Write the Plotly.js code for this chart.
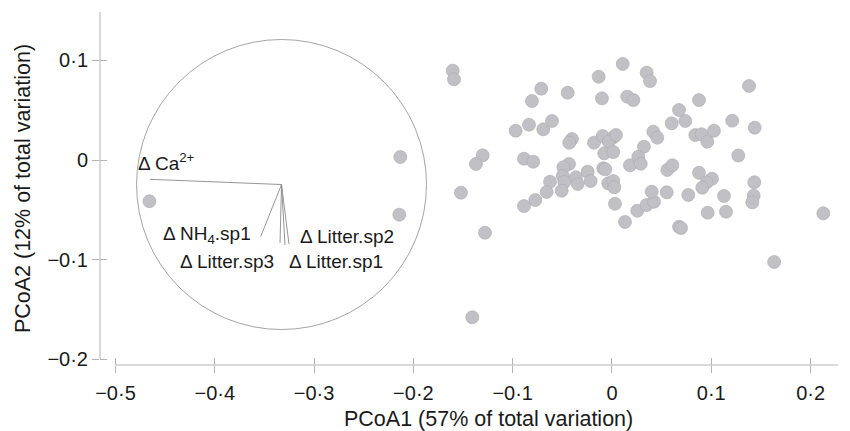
<!DOCTYPE html>
<html>
<head>
<meta charset="utf-8">
<script src="https://cdn.plot.ly/plotly-3.0.1.min.js"></script>
<style>html,body{margin:0;padding:0;background:#fff;}#chart{width:850px;height:431px;}</style>
</head>
<body>
<div id="chart"></div>
<script>
// Sample scores (PCoA1, PCoA2)
const pcoa1 = [-0.1604,-0.1591,-0.2132,-0.2142,-0.1302,-0.1370,-0.1521,-0.1279,-0.1407,-0.4658,
  0.0108,-0.0134,0.0349,0.0383,-0.0712,-0.0806,-0.0446,-0.0101,0.0154,0.0215,
  0.0675,0.0601,-0.0970,-0.0836,-0.0692,-0.0604,-0.0403,-0.0430,-0.0181,-0.0094,
  0.0013,-0.0033,0.0040,-0.0078,0.0013,0.0416,0.0456,0.0322,-0.0886,-0.0793,
  -0.0433,-0.0490,-0.0496,-0.0480,-0.0363,-0.0345,-0.0245,-0.0215,-0.0088,-0.0067,
  -0.0037,0.0013,0.0023,-0.0624,-0.0658,-0.0507,-0.0772,-0.0886,0.0030,0.0131,
  0.0255,0.0349,0.0423,0.0400,0.0551,0.0181,0.0265,0.0289,0.0557,0.0607,
  0.0675,0.1380,0.0876,0.0738,0.0839,0.0903,0.0960,0.1027,0.1211,0.1437,
  0.1272,0.0876,0.1007,0.0954,0.0909,0.0768,0.1128,0.1433,0.1427,0.1413,
  0.0964,0.1148,0.0695,0.1633,0.2128];
const pcoa2 = [0.0897,0.0810,0.0030,-0.0549,0.0047,-0.0040,-0.0328,-0.0730,-0.1579,-0.0414,
  0.0964,0.0836,0.0877,0.0793,0.0716,0.0592,0.0676,0.0619,0.0636,0.0602,
  0.0502,0.0368,0.0294,0.0354,0.0308,0.0392,0.0211,0.0174,0.0174,0.0241,
  0.0228,0.0184,0.0251,0.0067,0.0080,0.0284,0.0224,0.0134,0.0013,-0.0017,
  -0.0040,-0.0073,-0.0161,-0.0221,-0.0174,-0.0241,-0.0117,-0.0211,-0.0083,-0.0093,
  -0.0234,-0.0211,-0.0274,-0.0218,-0.0321,-0.0308,-0.0402,-0.0462,-0.0439,-0.0622,
  -0.0509,-0.0452,-0.0419,-0.0318,-0.0324,-0.0053,0.0033,-0.0037,-0.0100,-0.0053,
  -0.0670,0.0743,0.0602,0.0392,0.0251,0.0258,0.0184,0.0294,0.0395,0.0324,
  0.0045,-0.0128,-0.0188,-0.0224,-0.0278,-0.0351,-0.0361,-0.0224,-0.0358,-0.0425,
  -0.0529,-0.0519,-0.0683,-0.1024,-0.0535];

// Vector overlay (correlation circle)
const vectorOrigin = [-0.3328, -0.0246];
const circleRadius = [0.146, 0.1456];
const vectorLabels = ['Δ Ca<sup>2+</sup>', 'Δ NH<sub>4</sub>.sp1', 'Δ Litter.sp3', 'Δ Litter.sp2', 'Δ Litter.sp1'];
const vectorEndX = [-0.4653, -0.3538, -0.3343, -0.3253, -0.3293];
const vectorEndY = [-0.0194, -0.0770, -0.0833, -0.0843, -0.0853];
const labelX = [-0.4780, -0.4530, -0.4360, -0.3150, -0.3260];
const labelY = [-0.0020, -0.0755, -0.1014, -0.0770, -0.1014];

// Axis ticks
const xTickVals = [-0.5, -0.4, -0.3, -0.2, -0.1, 0, 0.1, 0.2];
const xTickText = ['−0·5', '−0·4', '−0·3', '−0·2', '−0·1', '0', '0·1', '0·2'];
const yTickVals = [-0.2, -0.1, 0, 0.1];
const yTickText = ['−0·2', '−0·1', '0', '0·1'];
const xRange = [-0.5156, 0.2276];
const yRange = [-0.2058, 0.1486];
const xTitle = 'PCoA1 (57% of total variation)';
const yTitle = 'PCoA2 (12% of total variation)';

const FONT = 'Liberation Sans, Arial, sans-serif';
const TXT = '#1a1a1a';
const AXC = '#b4b4b4';

const vx = [], vy = [];
for (let i = 0; i < vectorEndX.length; i++) {
  vx.push(vectorOrigin[0], vectorEndX[i], null);
  vy.push(vectorOrigin[1], vectorEndY[i], null);
}

const traces = [
  {x: vx, y: vy, mode: 'lines', type: 'scatter', line: {color: '#8a8a8a', width: 0.9}, hoverinfo: 'skip', showlegend: false},
  {x: pcoa1, y: pcoa2, mode: 'markers', type: 'scatter', showlegend: false,
   marker: {size: 13, color: '#c1c1c5', line: {color: '#a9a9ae', width: 0.6}}},
  {x: [null], y: [null], xaxis: 'x2', yaxis: 'y2', type: 'scatter', mode: 'markers', showlegend: false, hoverinfo: 'skip'}
];

const annotations = vectorLabels.map((t, i) => ({
  x: labelX[i], y: labelY[i], xref: 'x', yref: 'y', text: t, showarrow: false,
  xanchor: 'left', yanchor: 'middle', borderpad: 0, font: {family: FONT, size: 19, color: TXT}
}));
annotations.push({
  x: 0.527, y: -0.152, xref: 'paper', yref: 'paper', text: xTitle, showarrow: false,
  xanchor: 'center', yanchor: 'middle', font: {family: FONT, size: 21.5, color: TXT}
});

const axBase = {
  showgrid: false, zeroline: false, showline: false,
  tickcolor: AXC, tickwidth: 1, ticklen: 7,
  tickfont: {family: FONT, size: 20, color: TXT}
};

const layout = {
  width: 850, height: 431,
  margin: {l: 100, r: 12, t: 12, b: 66},
  paper_bgcolor: '#fff', plot_bgcolor: '#fff',
  font: {family: FONT, color: TXT},
  xaxis: Object.assign({}, axBase, {
    range: xRange, tickvals: xTickVals, ticktext: xTickText, ticks: 'outside', ticklabelstandoff: 3
  }),
  yaxis: Object.assign({}, axBase, {
    range: yRange, tickvals: yTickVals, ticktext: yTickText, ticks: 'outside',
    title: {text: yTitle, font: {family: FONT, size: 21.5, color: TXT}, standoff: 10}
  }),
  xaxis2: Object.assign({}, axBase, {
    range: xRange, tickvals: xTickVals, ticks: 'inside', showticklabels: false,
    overlaying: 'x', anchor: 'y', side: 'bottom'
  }),
  yaxis2: Object.assign({}, axBase, {
    range: yRange, tickvals: yTickVals, ticks: 'inside', showticklabels: false,
    overlaying: 'y', anchor: 'x', side: 'left'
  }),
  shapes: [
    {type: 'line', xref: 'paper', yref: 'y', x0: 0, x1: 0, y0: yTickVals[0], y1: yRange[1], line: {color: AXC, width: 1}},
    {type: 'line', xref: 'x', yref: 'paper', x0: xTickVals[0], x1: xRange[1], y0: 0, y1: 0, line: {color: AXC, width: 1}},
    {type: 'circle', xref: 'x', yref: 'y',
     x0: vectorOrigin[0] - circleRadius[0], x1: vectorOrigin[0] + circleRadius[0],
     y0: vectorOrigin[1] - circleRadius[1], y1: vectorOrigin[1] + circleRadius[1],
     line: {color: '#9a9a9a', width: 0.9}}
  ],
  annotations: annotations
};

Plotly.newPlot('chart', traces, layout, {displayModeBar: false, staticPlot: true});
</script>
</body>
</html>
